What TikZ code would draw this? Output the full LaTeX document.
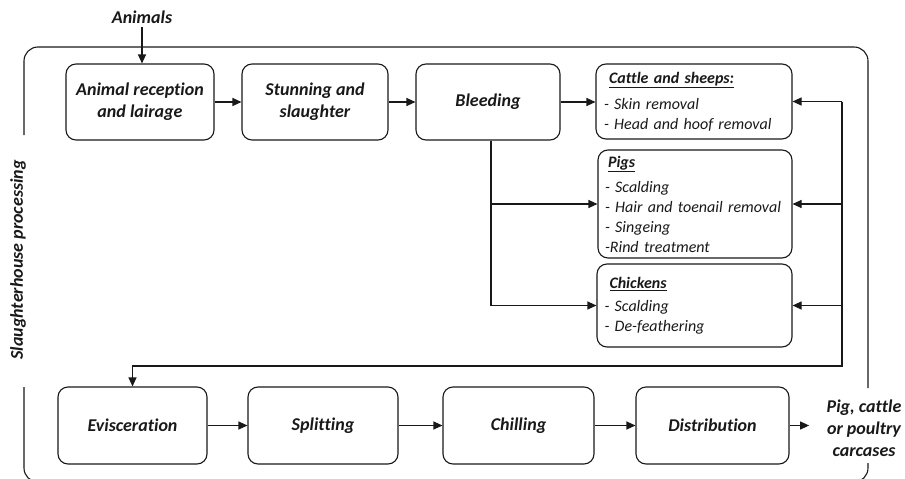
\documentclass[tikz,border=0pt]{standalone}
\usepackage{fontspec}
\setmainfont{Carlito}[Ligatures=NoCommon]
\usetikzlibrary{arrows.meta,calc}

\begin{document}
\begin{tikzpicture}[x=1pt,y=-1pt,
  line width=1.1pt, color=black!90,
  >={Triangle[length=9pt,width=8pt]},
  stage/.style={draw, rounded corners=10pt, align=center, inner sep=2pt,
    font=\bfseries\itshape\fontsize{18}{22}\selectfont},
  listbox/.style={draw, rounded corners=10pt, align=left, inner xsep=7pt,
    text width=180pt, font=\itshape\fontsize{16}{20}\selectfont},
  label/.style={font=\bfseries\itshape\fontsize{18}{22}\selectfont, align=center},
  flow/.style={->},
  frame/.style={rounded corners=14pt}
]
\useasboundingbox (0,0) rectangle (905,479);

% enclosing frame of the slaughterhouse, broken by its side labels
\draw[frame] (24,135) -- (24,47) -- (868,47) -- (868,388);
\draw[frame] (24,387) -- (24,482) -- (60,482);
\draw[frame] (868,463) -- (868,482) -- (830,482);

\node[label, rotate=90] (side) at (18,260) {Slaughterhouse processing};

% top row
\node[label] (animals) at (142,17) {Animals};
\node[stage, minimum width=148pt, minimum height=76pt] (rec) at (140,102) {Animal reception\\and lairage};
\node[stage, minimum width=146pt, minimum height=76pt] (stun) at (315,102) {Stunning and\\slaughter};
\node[stage, minimum width=144pt, minimum height=76pt] (bleed) at (488,102) {Bleeding};

% species-specific treatment
\node[listbox, minimum width=196pt, minimum height=75pt] (cattle) at (694,101.5)
  {\hspace*{5pt}\underline{\textbf{Cattle and sheeps:}}\\[6pt]
   - Skin removal\\
   - Head and hoof removal};
\node[listbox, minimum width=194pt, minimum height=108pt] (pigs) at (695,204)
  {\hspace*{3pt}\underline{\textbf{Pigs}}\\[5pt]
   - Scalding\\
   - Hair and toenail removal\\
   - Singeing\\
   -Rind treatment};
\node[listbox, minimum width=195pt, minimum height=83pt] (chick) at (694.5,305.5)
  {\hspace*{5pt}\underline{\textbf{Chickens}}\\[3pt]
   - Scalding\\
   - De-feathering};

% bottom row
\node[stage, minimum width=149pt, minimum height=77pt] (evis) at (132.5,425.5) {Evisceration};
\node[stage, minimum width=150pt, minimum height=77pt] (split) at (323,425.5) {Splitting};
\node[stage, minimum width=151pt, minimum height=77pt] (chill) at (518.5,425.5) {Chilling};
\node[stage, minimum width=153pt, minimum height=77pt] (dist) at (712.5,425.5) {Distribution};
\node[label, inner xsep=17pt] (carc) at (864,428) {Pig, cattle\\or poultry\\carcases};

\coordinate (split0) at ($(bleed.south)+(3,0)$);
\coordinate (ret) at (842,366);

% connectors
\draw[flow] (animals.south) -- (animals.south |- rec.north);
\draw[flow] (rec) -- (stun);
\draw[flow] (stun) -- (bleed);
\draw[flow] (bleed.east) -- (cattle.west |- bleed.east);
\draw[flow] (split0) |- (chick.west);
\draw[flow] (split0 |- pigs.west) -- (pigs.west);

\draw[flow] (ret |- cattle.east) -- (ret) -| (evis.north);
\draw[flow] (ret |- cattle.east) -- (cattle.east);
\draw[flow] (ret |- pigs.east) -- (pigs.east);
\draw[flow] (ret |- chick.east) -- (chick.east);

\draw[flow] (evis) -- (split);
\draw[flow] (split) -- (chill);
\draw[flow] (chill) -- (dist);
\draw[flow] (dist.east) -- (carc.west |- dist.east);
\end{tikzpicture}
\end{document}
